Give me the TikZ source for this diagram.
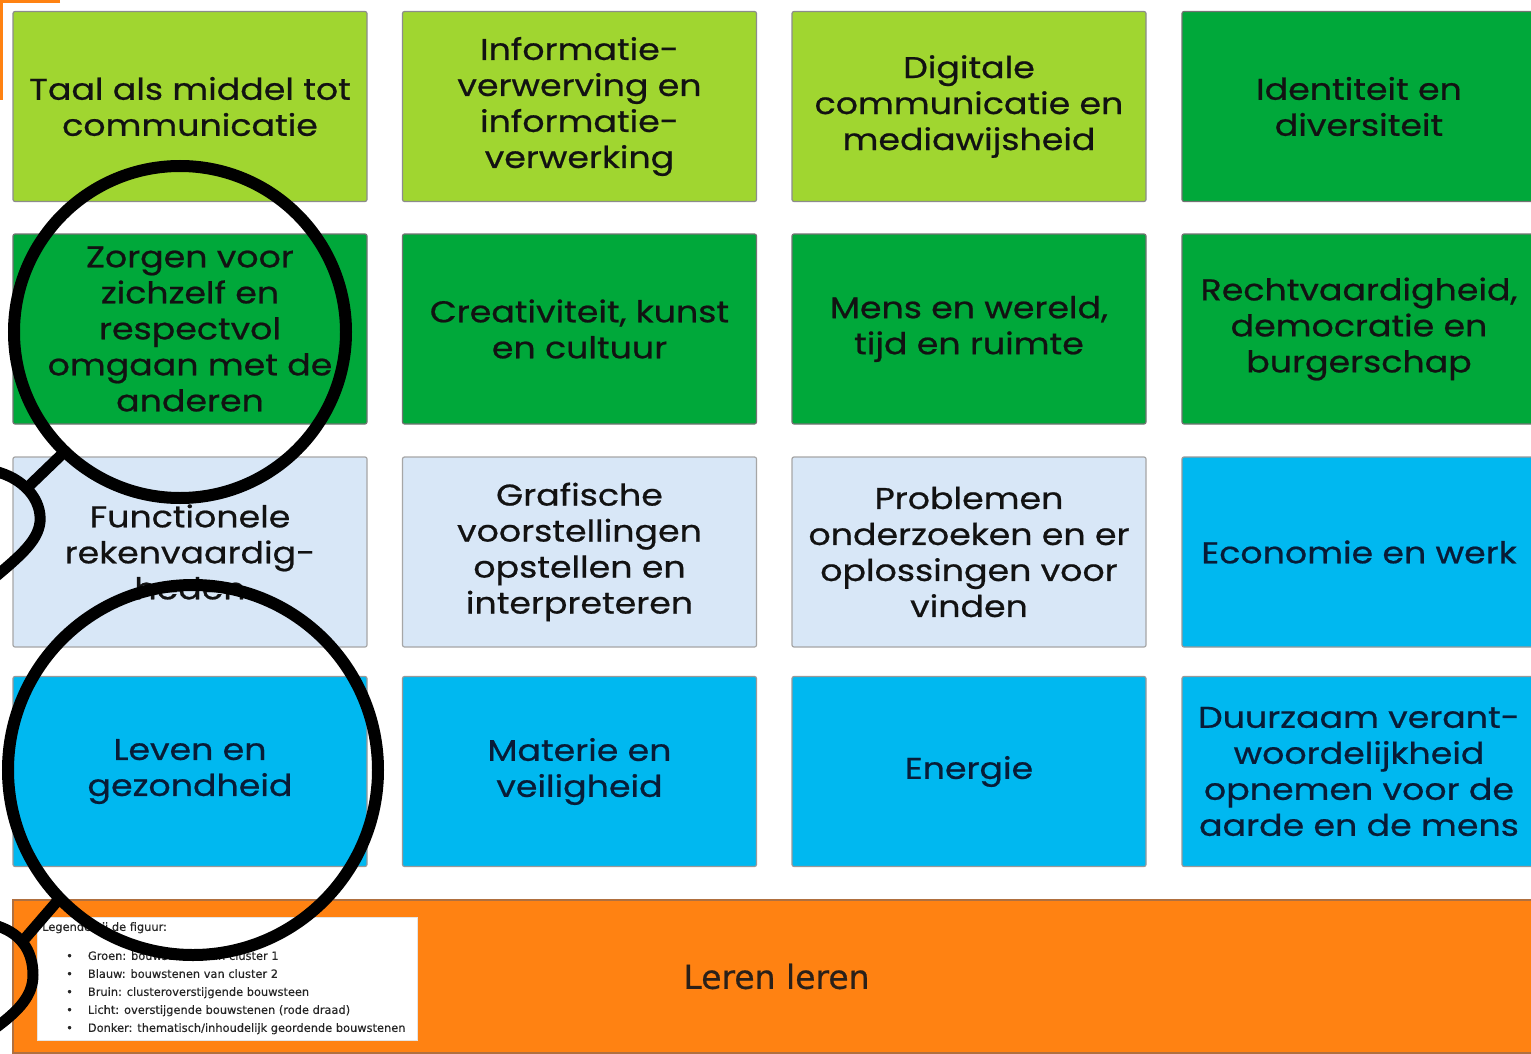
\documentclass[tikz,border=0pt]{standalone}
\usepackage{fontspec}
\usetikzlibrary{calc}
\newfontfamily\tilefont[FakeStretch=1.16,FakeBold=0.7]{Poppins}
\newfontfamily\legendfont[FakeBold=0.3]{DejaVu Sans}
\newfontfamily\bandfont[FakeBold=0.6]{DejaVu Sans}
\definecolor{limegreen}{RGB}{160,214,48}
\definecolor{deepgreen}{RGB}{0,168,58}
\definecolor{paleblue}{RGB}{216,231,247}
\definecolor{skyblue}{RGB}{0,184,240}
\definecolor{bandorange}{RGB}{255,130,18}
\definecolor{bandedge}{RGB}{176,112,64}
\definecolor{inkdark}{RGB}{18,18,18}
\definecolor{inknavy}{RGB}{8,28,55}
\begin{document}
\begin{tikzpicture}[x=1pt,y=-1pt,
  tile/.style={draw=black!45, line width=1.2pt, rounded corners=2pt,
    minimum width=354pt, minimum height=190pt, inner sep=0pt, align=center,
    text=inkdark, font=\tilefont\fontsize{30}{36}\selectfont},
  lime/.style={tile, fill=limegreen},
  forest/.style={tile, fill=deepgreen, draw=black!55},
  pale/.style={tile, fill=paleblue, draw=black!35},
  sky/.style={tile, fill=skyblue, draw=black!40, text=inknavy},
  lens/.style={draw=black, line width=12pt},
  grip/.style={draw=black, line width=11pt, line cap=round}]
\useasboundingbox (0,0) rectangle (1531,1054);
\clip (0,0) rectangle (1531,1054);
\fill[white] (0,0) rectangle (1531,1054);

% corner of the surrounding orange frame
\draw[bandorange, line width=6pt] (60,0) -- (0,0) -- (0,100);

% row 1
\node[lime]   (t11) at (190,106.5)  {Taal als middel tot\\communicatie};
\node[lime]   (t12) at (579.5,106.5){Informatie-\\verwerving en\\informatie-\\verwerking};
\node[lime]   (t13) at (969,106.5)  {Digitale\\communicatie en\\mediawijsheid};
\node[forest] (t14) at (1359,106.5) {Identiteit en\\diversiteit};
% row 2
\node[forest] (t21) at (190,329)    {Zorgen voor\\zichzelf en\\respectvol\\omgaan met de\\anderen};
\node[forest] (t22) at (579.5,329)  {Creativiteit, kunst\\en cultuur};
\node[forest] (t23) at (969,329)    {Mens en wereld,\\tijd en ruimte};
\node[forest] (t24) at (1359,329)   {Rechtvaardigheid,\\democratie en\\burgerschap};
% row 3
\node[pale]   (t31) at (190,552)    {Functionele\\rekenvaardig-\\heden};
\node[pale]   (t32) at (579.5,552)  {Grafische\\voorstellingen\\opstellen en\\interpreteren};
\node[pale]   (t33) at (969,552)    {Problemen\\onderzoeken en er\\oplossingen voor\\vinden};
\node[sky]    (t34) at (1359,552)   {Economie en werk};
% row 4
\node[sky]    (t41) at (190,771.5)  {Leven en\\gezondheid};
\node[sky]    (t42) at (579.5,771.5){Materie en\\veiligheid};
\node[sky]    (t43) at (969,771.5)  {Energie};
\node[sky]    (t44) at (1359,771.5) {Duurzaam verant-\\woordelijkheid\\opnemen voor de\\aarde en de mens};

% bottom band
\node[draw=bandedge, line width=1.5pt, fill=bandorange, minimum width=1527pt,
  minimum height=153pt, inner sep=0pt, text=inkdark!85!bandedge,
  font=\bandfont\fontsize{33}{38}\selectfont] (band) at (776.5,976.5) {Leren leren};

% legend
\node[fill=white, draw=black!10, line width=0.6pt, anchor=north west,
  minimum width=380pt, minimum height=123pt, inner sep=0pt] (legend) at (37,917) {};
\node[anchor=north west, align=left, inner sep=0pt, text=black!85,
  font=\legendfont\fontsize{11.4}{18}\selectfont] (legendtext) at (42,922)
  {Legende bij de figuur:\\[11pt]
   \hspace{24pt}\textbullet\hspace{15pt}Groen: bouwstenen van cluster 1\\
   \hspace{24pt}\textbullet\hspace{15pt}Blauw: bouwstenen van cluster 2\\
   \hspace{24pt}\textbullet\hspace{15pt}Bruin: clusteroverstijgende bouwsteen\\
   \hspace{24pt}\textbullet\hspace{15pt}Licht: overstijgende bouwstenen (rode draad)\\
   \hspace{24pt}\textbullet\hspace{15pt}Donker: thematisch/inhoudelijk geordende bouwstenen};

% magnifying glasses
\coordinate (lensA) at (180,332);
\coordinate (neckA) at (29,486);
\coordinate (lensB) at (193,770);
\coordinate (neckB) at (22,942);
\draw[lens] (lensA) circle[radius=166];
\draw[grip] ($(lensA)+(134:170)$) -- (neckA);
\draw[grip] (-6,471) .. controls (24,478) and (42,500) .. (40,522)
  .. controls (38,541) and (20,556) .. (-6,578);
\draw[lens] (lensB) circle[radius=185];
\draw[grip] ($(lensB)+(136:188)$) -- (neckB);
\draw[grip] (-6,925) .. controls (20,932) and (33,950) .. (33,975)
  .. controls (33,995) and (20,1010) .. (-6,1029);
\end{tikzpicture}
\end{document}
